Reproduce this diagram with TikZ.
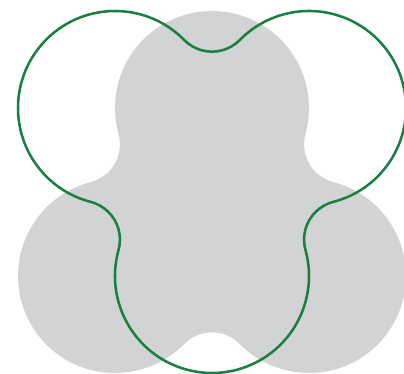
\documentclass[tikz,border=0pt]{standalone}
\usepackage{tikz}

\definecolor{grisclaro}{RGB}{209,211,212}
\definecolor{verdeosc}{RGB}{26,128,64}

\begin{document}
\begin{tikzpicture}[x=0.025cm, y=0.025cm,
    relleno/.style={fill=grisclaro},
    contorno/.style={draw=verdeosc, line width=1.8pt}]

    % trebol de tres circulos tangentes: #1 = centro, #2 = giro, #3 = estilo
    \newcommand{\trebol}[3]{%
        \begin{scope}[shift={#1}, rotate=#2]
            \path[#3] (93.47,86.08)
                arc[start angle=-15.5, end angle=195.5, radius=97]
                arc[start angle=15.5, end angle=-75.5, radius=39]
                arc[start angle=104.5, end angle=315.5, radius=97]
                arc[start angle=135.5, end angle=44.5, radius=39]
                arc[start angle=224.5, end angle=435.5, radius=97]
                arc[start angle=255.5, end angle=164.5, radius=39] -- cycle;
        \end{scope}}

    \useasboundingbox (0,0) rectangle (404,374);
    \trebol{(212,154)}{0}{relleno}
    \trebol{(212,210)}{180}{contorno}

\end{tikzpicture}
\end{document}
